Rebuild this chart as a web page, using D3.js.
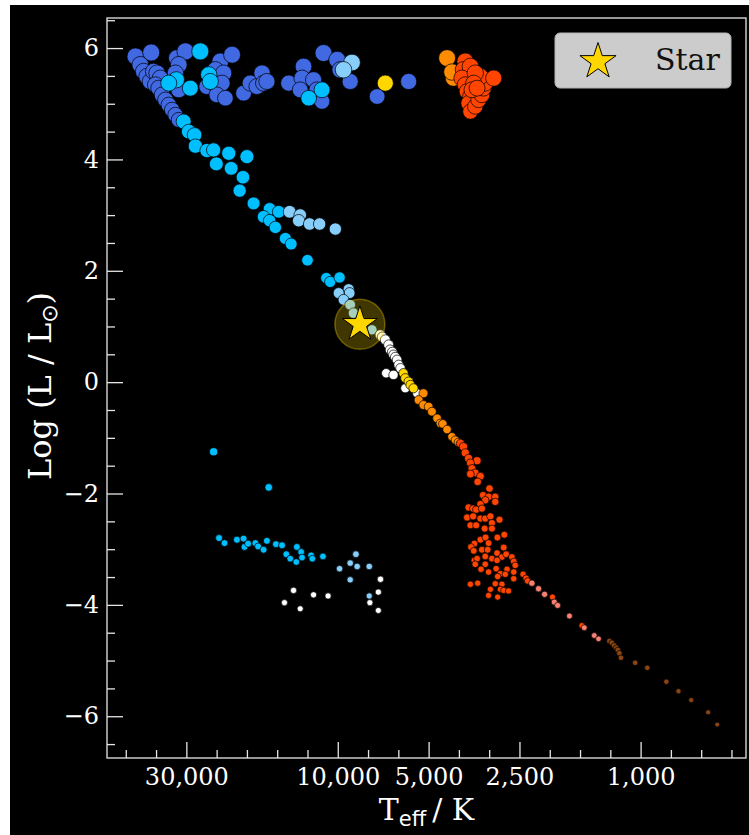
<!DOCTYPE html>
<html><head><meta charset="utf-8">
<script src="https://cdn.jsdelivr.net/npm/d3@7"></script>
<style>html,body{margin:0;padding:0;background:#fff;} svg{display:block;}</style>
</head><body>
<svg id="c" width="749" height="835"></svg>
<script>
// ---- data: [log10 Teff (K), log10 L/Lsun] per spectral group ----
const classO = [[4.668,5.85],[4.616,5.92],[4.652,5.70],[4.641,5.58],[4.630,5.49],[4.619,5.40],[4.608,5.58],[4.597,5.55],[4.586,5.46],[4.602,5.34],[4.591,5.28],[4.580,5.16],[4.569,5.07],[4.558,4.98],[4.547,4.89],[4.536,4.80],[4.525,4.71],[4.531,5.82],[4.503,5.94],[4.525,5.70],[4.536,5.55],[4.540,5.40],[4.525,5.25],[4.388,5.76],[4.404,5.61],[4.377,5.55],[4.432,5.31],[4.410,5.37],[4.382,5.37],[4.399,5.16],[4.371,5.10],[4.349,5.88],[4.311,5.19],[4.289,5.37],[4.267,5.31],[4.250,5.55],[4.245,5.37],[4.234,5.40],[4.162,5.37],[4.113,5.67],[4.118,5.46],[4.124,5.25],[4.080,5.43],[4.069,5.25],[4.052,5.04],[4.047,5.91],[4.002,5.79],[3.992,5.61],[3.959,5.40],[3.870,5.13],[3.766,5.40]];
const classB = [[4.454,5.94],[4.533,5.43],[4.558,5.37],[4.487,5.28],[4.426,5.52],[4.421,5.40],[4.096,5.10],[4.052,5.25],
  [4.509,4.68],[4.492,4.50],[4.473,4.44],[4.470,4.24],[4.432,4.16],[4.410,4.17],[4.360,4.11],[4.300,4.05],[4.401,3.92],[4.352,3.84],[4.313,3.68],[4.324,3.44],[4.278,3.21],[4.225,3.11],[4.245,2.97],[4.195,3.06],[4.225,2.90],[4.206,2.78],[4.173,2.58],[4.154,2.48],[4.100,2.19],[4.038,1.87],[4.025,1.80],[3.994,1.88],
  [4.410,-1.25],[4.228,-1.89],[4.392,-2.80],[4.374,-2.89],[4.333,-2.83],[4.311,-2.81],[4.308,-2.96],[4.296,-2.90],[4.272,-2.89],[4.263,-2.95],[4.245,-3.01],[4.234,-2.85],[4.204,-2.91],[4.184,-2.93],[4.170,-3.09],[4.157,-3.17],[4.135,-2.96],[4.121,-3.05],[4.118,-3.15],[4.137,-3.23],[4.088,-3.11],[4.084,-3.17],[4.049,-3.13]];
const classA = [[3.953,5.74],[3.981,5.61],
  [4.159,3.06],[4.124,3.00],[4.129,2.90],[4.093,2.84],[4.060,2.84],[4.008,2.75],[3.964,1.67],[3.961,1.60],[3.997,1.60],[3.981,1.48],[3.959,1.39],[3.948,1.24],[3.919,1.08],[3.887,0.94],
  [3.940,-3.09],[3.994,-3.35],[3.959,-3.25],[3.936,-3.31],[3.896,-3.31],[3.959,-3.55],[3.896,-3.84]];
const classF = [[3.860,0.85],[3.853,0.81],[3.843,0.76],[3.832,0.67],[3.827,0.58],[3.820,0.54],[3.816,0.49],[3.810,0.45],[3.804,0.40],[3.799,0.31],[3.793,0.25],[3.840,0.16],[3.816,0.13],[3.777,-0.11],[3.738,-0.20],
  [3.859,-3.54],[3.866,-3.77],[3.894,-3.96],[3.866,-4.10],[4.146,-3.74],[4.176,-3.96],[4.124,-4.07],[4.080,-3.82],[4.032,-3.84]];
const classG = [[3.843,5.37],[3.783,0.16],[3.777,0.07],[3.766,0.01],[3.760,-0.05],[3.750,-0.11]];
const classK = [[3.639,5.82],[3.618,5.46],[3.623,5.57],
  [3.717,-0.20],[3.733,-0.32],[3.717,-0.41],[3.700,-0.44],[3.689,-0.53],[3.672,-0.65],[3.661,-0.74],[3.653,-0.75],[3.639,-0.85],[3.623,-0.98],[3.612,-1.04],[3.602,-1.08]];
const classM = [[3.579,5.76],[3.585,5.61],[3.562,5.67],[3.590,5.46],[3.579,5.34],[3.573,5.22],[3.562,5.13],[3.568,5.01],[3.562,4.86],[3.546,4.95],[3.535,5.07],[3.524,5.16],[3.519,5.28],[3.513,5.37],[3.529,5.49],[3.546,5.55],[3.485,5.46],[3.551,5.37],[3.557,5.25],[3.540,5.28],
  [3.595,-1.10],[3.585,-1.16],[3.579,-1.27],[3.568,-1.37],[3.540,-1.41],[3.562,-1.45],[3.557,-1.55],[3.546,-1.63],[3.529,-1.69],[3.562,-1.65],[3.538,-1.79],[3.499,-1.91],[3.520,-2.03],[3.502,-2.06],[3.480,-2.06],[3.480,-2.15],[3.513,-2.12],[3.529,-2.19],[3.568,-2.25],[3.553,-2.27],[3.543,-2.29],[3.524,-2.27],[3.573,-2.43],[3.553,-2.41],[3.529,-2.45],[3.513,-2.45],[3.496,-2.41],[3.491,-2.53],[3.466,-2.47],[3.562,-2.57],[3.543,-2.57],[3.515,-2.63],[3.491,-2.63],[3.473,-2.79],[3.450,-2.74],[3.529,-2.83],[3.512,-2.79],[3.502,-2.89],[3.549,-2.90],[3.560,-2.96],[3.551,-3.03],[3.524,-3.01],[3.505,-3.01],[3.474,-3.07],[3.452,-2.97],[3.458,-3.14],[3.444,-3.09],[3.425,-3.14],[3.549,-3.20],[3.540,-3.17],[3.513,-3.13],[3.491,-3.17],[3.474,-3.20],[3.419,-3.22],[3.414,-3.29],[3.546,-3.27],[3.513,-3.27],[3.527,-3.36],[3.502,-3.41],[3.477,-3.35],[3.441,-3.36],[3.419,-3.41],[3.463,-3.44],[3.472,-3.49],[3.447,-3.45],[3.419,-3.53],[3.388,-3.45],[3.378,-3.52],[3.373,-3.57],[3.562,-3.63],[3.538,-3.61],[3.480,-3.62],[3.458,-3.63],[3.463,-3.72],[3.452,-3.74],[3.436,-3.75],[3.496,-3.72],[3.502,-3.83],[3.472,-3.86],[3.291,-3.86],[3.194,-4.37]];
const classL = [[3.359,-3.61],[3.337,-3.71],[3.317,-3.81],[3.285,-3.95],[3.274,-4.01],[3.235,-4.20],[3.186,-4.41],[3.153,-4.55],[3.139,-4.61]];
const classT = [[3.103,-4.65],[3.095,-4.68],[3.087,-4.73],[3.080,-4.77],[3.075,-4.81],[3.070,-4.87],[3.065,-4.95],[3.018,-5.04],[2.978,-5.13],[2.915,-5.38],[2.875,-5.55],[2.833,-5.71],[2.777,-5.93],[2.747,-6.15]];
const theStar = [3.927, 1.04];
const legendLabel = "Star";

const xTickValues = [4.5, 4.0, 3.7, 3.4, 3.0];
const xTickLabels = ["30,000", "10,000", "5,000", "2,500", "1,000"];
const yTickValues = [-6, -4, -2, 0, 2, 4, 6];

// ---- drawing ----
const groups = [
  {data: classO, color: "#4169E1"},
  {data: classB, color: "#00BFFF"},
  {data: classA, color: "#87CEFA"},
  {data: classF, color: "#FFFFFF"},
  {data: classG, color: "#FFD700"},
  {data: classK, color: "#FF8C00"},
  {data: classM, color: "#FF4500"},
  {data: classL, color: "#FA8072"},
  {data: classT, color: "#8B4513"}
];

const W = 749, H = 835;
const m = {l: 107, r: 746, t: 18, b: 758};
const svg = d3.select("#c");
svg.append("rect").attr("x", 10).attr("y", 5).attr("width", W - 10).attr("height", H - 5).attr("fill", "#000");

const x = d3.scaleLinear().domain([4.762, 2.652]).range([m.l, m.r]);
const y = d3.scaleLinear().domain([-6.75, 6.54]).range([m.b, m.t]);
const logR = d3.scaleLinear().domain([-6, 6]).range([Math.log(2.5), Math.log(8.6)]);
const r = L => Math.exp(logR(L));

const SERIF = "'DejaVu Serif', serif";
const AX = "#e6e6e6";

// points
const pts = svg.append("g");
groups.forEach(g => {
  pts.append("g").selectAll("circle").data(g.data).join("circle")
    .attr("cx", d => x(d[0])).attr("cy", d => y(d[1])).attr("r", d => r(d[1]))
    .attr("fill", g.color).attr("stroke", "#000").attr("stroke-width", 0.7);
});

// highlighted star
const sx = x(theStar[0]), sy = y(theStar[1]);
svg.append("circle").attr("cx", sx).attr("cy", sy).attr("r", 25)
  .attr("fill", "#FFD700").attr("fill-opacity", 0.25)
  .attr("stroke", "#FFD700").attr("stroke-opacity", 0.35).attr("stroke-width", 1.5);
const ka = 0.8908130915292852;
svg.append("path").attr("d", d3.symbol(d3.symbolStar, 18.4 * 18.4 / ka)())
  .attr("transform", `translate(${sx},${sy})`)
  .attr("fill", "#FFD700").attr("stroke", "#000").attr("stroke-width", 1);

// axes
const xMinor = d3.range(27, 48).map(v => v / 10).filter(v => !xTickValues.some(t => Math.abs(t - v) < 1e-9));
const yMinor = d3.range(-13, 14).map(v => v / 2).filter(v => v % 2 !== 0 && v >= -6.75 && v <= 6.54);

function styleAxis(g) {
  g.select(".domain").remove();
  g.selectAll(".tick line").attr("stroke", AX).attr("stroke-width", 1.3);
  g.selectAll(".tick text").attr("fill", "#fff").attr("font-family", SERIF).attr("font-size", 24);
}
svg.append("g").attr("transform", `translate(0,${m.b})`)
  .call(d3.axisBottom(x).tickValues(xMinor).tickSize(-8).tickFormat(""))
  .call(styleAxis);
svg.append("g").attr("transform", `translate(0,${m.b})`)
  .call(d3.axisBottom(x).tickValues(xTickValues).tickSize(-16).tickPadding(10)
    .tickFormat((d, i) => xTickLabels[i]))
  .call(styleAxis);
svg.append("g").attr("transform", `translate(${m.l},0)`)
  .call(d3.axisLeft(y).tickValues(yMinor).tickSize(-8).tickFormat(""))
  .call(styleAxis);
svg.append("g").attr("transform", `translate(${m.l},0)`)
  .call(d3.axisLeft(y).tickValues(yTickValues).tickSize(-16).tickPadding(8)
    .tickFormat(d => d < 0 ? "\u2212" + Math.abs(d) : String(d)))
  .call(styleAxis);

// frame
svg.append("rect").attr("x", m.l).attr("y", m.t).attr("width", m.r - m.l).attr("height", m.b - m.t)
  .attr("fill", "none").attr("stroke", AX).attr("stroke-width", 1.3);

// axis labels
const xl = svg.append("text").attr("x", (m.l + m.r) / 2).attr("y", 820).attr("text-anchor", "middle")
  .attr("fill", "#fff").attr("font-family", SERIF).attr("font-size", 30);
xl.append("tspan").text("T");
xl.append("tspan").attr("font-family", "'DejaVu Sans', sans-serif").attr("font-size", 21).attr("dy", 6).text("eff");
xl.append("tspan").attr("dy", -6).text("\u2009/ K");

const yl = svg.append("text").attr("transform", `translate(51,${(m.t + m.b) / 2 - 2}) rotate(-90)`)
  .attr("text-anchor", "middle").attr("fill", "#fff").attr("font-family", SERIF).attr("font-size", 32);
yl.append("tspan").text("Log (L / L");
yl.append("tspan").attr("font-family", "'DejaVu Sans', sans-serif").attr("font-size", 22).attr("dy", 6).text("\u2299");
yl.append("tspan").attr("dy", -6).text(")");

// legend
svg.append("rect").attr("x", 555).attr("y", 33).attr("width", 176).attr("height", 55).attr("rx", 5)
  .attr("fill", "#cccccc").attr("stroke", "#b3b3b3").attr("stroke-width", 1);
svg.append("path").attr("d", d3.symbol(d3.symbolStar, 19 * 19 / ka)())
  .attr("transform", "translate(598,61.5)")
  .attr("fill", "#FFD700").attr("stroke", "#000").attr("stroke-width", 1);
svg.append("text").attr("x", 655).attr("y", 70).attr("fill", "#111")
  .attr("font-family", SERIF).attr("font-size", 30).text(legendLabel);
</script>
</body></html>
